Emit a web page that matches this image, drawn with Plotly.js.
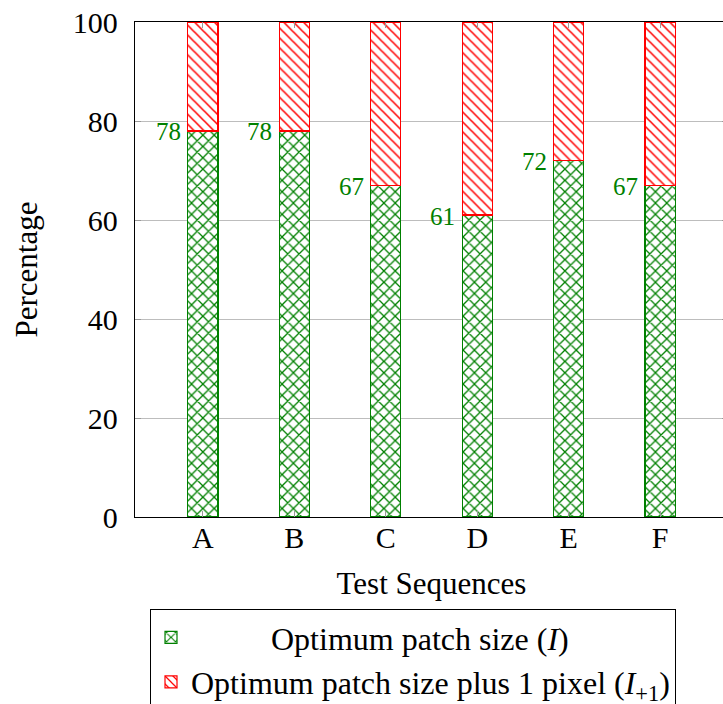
<!DOCTYPE html>
<html>
<head>
<meta charset="utf-8">
<script src="https://cdn.plot.ly/plotly-3.0.1.min.js"></script>
<style>
html,body{margin:0;padding:0;overflow:hidden;background:#fff;}
#chart{width:730px;height:704px;}
</style>
</head>
<body>
<div id="chart"></div>
<script>
const categories = ['A', 'B', 'C', 'D', 'E', 'F'];
const optimumValues = [78, 78, 67, 61, 72, 67];
const plusOneValues = [22, 22, 33, 39, 28, 33];
const seriesNames = ['Optimum patch size (<i>I</i>)', 'Optimum patch size plus 1 pixel (<i>I</i><sub>+1</sub>)'];
const yTicks = [0, 20, 40, 60, 80, 100];

const GREEN = 'rgb(0,128,0)';
const RED = 'rgb(255,0,0)';
const FONT = 'Liberation Serif';
const pad = '\u00a0'.repeat(10);

const traces = [
  {
    type: 'bar', x: categories, y: optimumValues, name: pad + seriesNames[0],
    width: 0.33,
    marker: {color: 'white', line: {color: GREEN, width: 1.2},
      pattern: {shape: 'x', fgcolor: GREEN, bgcolor: 'white', size: 8, solidity: 0.3}},
    hoverinfo: 'skip'
  },
  {
    type: 'bar', x: categories, y: plusOneValues, name: seriesNames[1],
    width: 0.33,
    marker: {color: 'white', line: {color: RED, width: 1.2},
      pattern: {shape: '\\', fgcolor: RED, bgcolor: 'white', size: 7, solidity: 0.22}},
    hoverinfo: 'skip'
  }
];

const annotations = categories.map((c, i) => ({
  x: c, y: optimumValues[i], xref: 'x', yref: 'y',
  text: String(optimumValues[i]), showarrow: false,
  xanchor: 'right', yanchor: 'middle', xshift: -20, yshift: -1,
  font: {family: FONT, size: 25, color: GREEN}
}));

const layout = {
  width: 730, height: 704,
  margin: {l: 135, r: 2, t: 22, b: 187, autoexpand: false},
  barmode: 'stack',
  paper_bgcolor: 'white', plot_bgcolor: 'white',
  font: {family: FONT, size: 30, color: 'black'},
  showlegend: true,
  xaxis: {
    type: 'category', range: [-0.743, 5.743],
    showline: true, linecolor: 'black', linewidth: 1.2, mirror: 'ticks',
    ticks: 'inside', ticklen: 6, tickcolor: '#999', tickwidth: 1,
    showgrid: false, zeroline: false,
    tickfont: {family: FONT, size: 30},
    ticklabelstandoff: -6,
    title: {text: 'Test Sequences', font: {family: FONT, size: 31}, standoff: 19}
  },
  yaxis: {
    range: [0, 100], tickvals: yTicks, ticktext: yTicks.map(String),
    showline: true, linecolor: 'black', linewidth: 1.2, mirror: 'ticks',
    ticks: 'inside', ticklen: 6, tickcolor: '#999', tickwidth: 1,
    showgrid: true, gridcolor: '#bdbdbd', gridwidth: 1, zeroline: false,
    tickfont: {family: FONT, size: 30},
    ticklabelstandoff: 10,
    title: {text: 'Percentage', font: {family: FONT, size: 31}, standoff: 26}
  },
  legend: {
    x: 0.0253, xanchor: 'left', y: -0.186, yanchor: 'top',
    bordercolor: 'black', borderwidth: 1, bgcolor: 'white',
    font: {family: FONT, size: 32, color: 'black'},
    traceorder: 'normal', orientation: 'v'
  },
  annotations: annotations
};

Plotly.newPlot('chart', traces, layout, {displayModeBar: false, staticPlot: true});
</script>
</body>
</html>
